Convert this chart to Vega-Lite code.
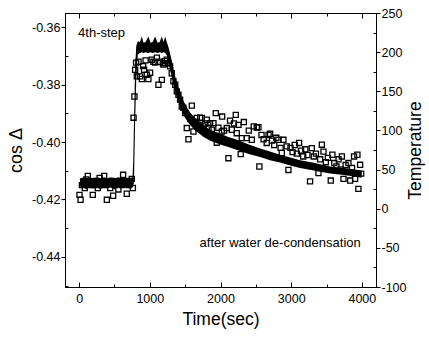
{
  "$schema": "https://vega.github.io/schema/vega-lite/v6.json",
  "width": 311,
  "height": 274,
  "autosize": {"type": "none"},
  "padding": {"left": 65, "top": 13, "right": 53, "bottom": 55},
  "background": "white",
  "config": {
    "font": "Liberation Sans",
    "view": {"stroke": "black", "strokeWidth": 1},
    "axis": {"grid": false, "domainColor": "black", "tickColor": "black", "labelColor": "black", "titleColor": "black", "labelFontSize": 12.5, "titleFontSize": 17.5, "titleFontWeight": "normal", "domainWidth": 1, "tickWidth": 1}
  },
  "resolve": {"scale": {"y": "independent"}, "axis": {"x": "independent"}},
  "layer": [
    {
      "data": {"values": [
        {"t": 15, "lo": 26, "hi": 39}, {"t": 60, "lo": 27, "hi": 40}, {"t": 100, "lo": 25, "hi": 38}, {"t": 150, "lo": 27, "hi": 40},
        {"t": 200, "lo": 26, "hi": 39}, {"t": 250, "lo": 27, "hi": 40}, {"t": 300, "lo": 25, "hi": 39}, {"t": 350, "lo": 27, "hi": 40},
        {"t": 400, "lo": 26, "hi": 39}, {"t": 450, "lo": 27, "hi": 40}, {"t": 500, "lo": 25, "hi": 39}, {"t": 550, "lo": 27, "hi": 40},
        {"t": 600, "lo": 26, "hi": 39}, {"t": 650, "lo": 27, "hi": 40}, {"t": 700, "lo": 26, "hi": 39}, {"t": 755, "lo": 27, "hi": 40},
        {"t": 765, "lo": 28, "hi": 60}, {"t": 778, "lo": 45, "hi": 120}, {"t": 792, "lo": 110, "hi": 180}, {"t": 808, "lo": 165, "hi": 208},
        {"t": 830, "lo": 197, "hi": 214}, {"t": 860, "lo": 199, "hi": 213}, {"t": 887, "lo": 200, "hi": 220}, {"t": 910, "lo": 199, "hi": 212},
        {"t": 940, "lo": 200, "hi": 213}, {"t": 980, "lo": 199, "hi": 220}, {"t": 1010, "lo": 200, "hi": 212}, {"t": 1040, "lo": 199, "hi": 213},
        {"t": 1075, "lo": 200, "hi": 220}, {"t": 1110, "lo": 199, "hi": 212}, {"t": 1140, "lo": 200, "hi": 213}, {"t": 1170, "lo": 199, "hi": 220},
        {"t": 1195, "lo": 200, "hi": 213}, {"t": 1217, "lo": 199, "hi": 220}, {"t": 1240, "lo": 196, "hi": 213}, {"t": 1265, "lo": 186, "hi": 206},
        {"t": 1290, "lo": 176, "hi": 197}, {"t": 1315, "lo": 166, "hi": 187}, {"t": 1345, "lo": 154, "hi": 174}, {"t": 1380, "lo": 143, "hi": 162},
        {"t": 1420, "lo": 132, "hi": 151}, {"t": 1460, "lo": 123, "hi": 141}, {"t": 1500, "lo": 116, "hi": 133}, {"t": 1570, "lo": 107, "hi": 123},
        {"t": 1640, "lo": 100, "hi": 116}, {"t": 1700, "lo": 96, "hi": 111}, {"t": 1754, "lo": 92, "hi": 107}, {"t": 1850, "lo": 87, "hi": 101},
        {"t": 1994, "lo": 82, "hi": 96}, {"t": 2100, "lo": 79, "hi": 92}, {"t": 2235, "lo": 75, "hi": 88}, {"t": 2400, "lo": 70, "hi": 82},
        {"t": 2560, "lo": 66, "hi": 77}, {"t": 2700, "lo": 62, "hi": 73}, {"t": 2843, "lo": 59, "hi": 69}, {"t": 3000, "lo": 55, "hi": 65},
        {"t": 3126, "lo": 52, "hi": 62}, {"t": 3300, "lo": 49, "hi": 59}, {"t": 3550, "lo": 45, "hi": 54}, {"t": 3750, "lo": 43, "hi": 52},
        {"t": 3975, "lo": 40, "hi": 49}, {"t": 4000, "lo": 40, "hi": 48}
      ]},
      "mark": {"type": "area", "color": "black"},
      "encoding": {
        "x": {"field": "t", "type": "quantitative", "scale": {"domain": [-200, 4200], "nice": false, "zero": false},
          "axis": {"orient": "bottom", "title": "Time(sec)", "values": [0, 500, 1000, 1500, 2000, 2500, 3000, 3500, 4000], "format": "d",
            "labelExpr": "datum.value % 1000 == 0 ? datum.label : ''",
            "tickSize": {"condition": {"test": "datum.value % 1000 == 0", "value": -5}, "value": -3},
            "labelPadding": 10, "titlePadding": 6}},
        "y": {"field": "lo", "type": "quantitative", "scale": {"domain": [-100, 250], "nice": false, "zero": false},
          "axis": {"orient": "right", "title": "Temperature", "titleAngle": 270, "titlePadding": 18,
            "values": [-100, -75, -50, -25, 0, 25, 50, 75, 100, 125, 150, 175, 200, 225, 250], "format": "d",
            "labelExpr": "datum.value % 50 == 0 ? replace(datum.label, '−', '-') : ''",
            "tickSize": {"condition": {"test": "datum.value % 50 == 0", "value": 4}, "value": -3},
            "labelPadding": 1}},
        "y2": {"field": "hi"}
      }
    },
    {
      "encoding": {
        "x": {"field": "t", "type": "quantitative", "scale": {"domain": [-200, 4200], "nice": false, "zero": false},
          "axis": {"orient": "top", "title": null, "labels": false, "values": [0, 500, 1000, 1500, 2000, 2500, 3000, 3500, 4000],
            "tickSize": {"condition": {"test": "datum.value % 1000 == 0", "value": -5}, "value": -3}}},
        "y": {"field": "cos", "type": "quantitative", "scale": {"domain": [-0.4505, -0.355], "nice": false, "zero": false},
          "axis": {"orient": "left", "title": "cos Δ", "titlePadding": 6, "titleFontSize": 18,
            "values": [-0.45, -0.44, -0.43, -0.42, -0.41, -0.4, -0.39, -0.38, -0.37, -0.36], "format": ".2f",
            "labelExpr": "abs(round(datum.value * 100)) % 2 == 0 ? replace(datum.label, '−', '-') : ''",
            "tickSize": {"condition": {"test": "abs(round(datum.value * 100)) % 2 == 0", "value": 4}, "value": -3},
            "labelPadding": 1}}
      },
      "layer": [
        {
          "data": {"values": [
            {"t": 5, "cos": -0.4184}, {"t": 20, "cos": -0.4201}, {"t": 40, "cos": -0.415}, {"t": 60, "cos": -0.414}, {"t": 80, "cos": -0.416},
            {"t": 100, "cos": -0.413}, {"t": 123, "cos": -0.4118}, {"t": 145, "cos": -0.415}, {"t": 170, "cos": -0.414}, {"t": 193, "cos": -0.4184},
            {"t": 215, "cos": -0.415}, {"t": 240, "cos": -0.4135}, {"t": 265, "cos": -0.416}, {"t": 290, "cos": -0.4125}, {"t": 315, "cos": -0.4145},
            {"t": 354, "cos": -0.4118}, {"t": 375, "cos": -0.415}, {"t": 392, "cos": -0.4201}, {"t": 415, "cos": -0.414}, {"t": 440, "cos": -0.416},
            {"t": 460, "cos": -0.4135}, {"t": 481, "cos": -0.4187}, {"t": 505, "cos": -0.415}, {"t": 530, "cos": -0.414}, {"t": 555, "cos": -0.4165},
            {"t": 580, "cos": -0.4135}, {"t": 605, "cos": -0.415}, {"t": 622, "cos": -0.4114}, {"t": 645, "cos": -0.4145}, {"t": 674, "cos": -0.418},
            {"t": 700, "cos": -0.415}, {"t": 725, "cos": -0.4135}, {"t": 745, "cos": -0.4128}, {"t": 760, "cos": -0.416},
            {"t": 770, "cos": -0.3915}, {"t": 782, "cos": -0.3841}, {"t": 792, "cos": -0.3748}, {"t": 806, "cos": -0.3723}, {"t": 816, "cos": -0.3771},
            {"t": 840, "cos": -0.372}, {"t": 863, "cos": -0.3771}, {"t": 887, "cos": -0.378}, {"t": 905, "cos": -0.3735}, {"t": 919, "cos": -0.3748},
            {"t": 940, "cos": -0.3715}, {"t": 957, "cos": -0.3765}, {"t": 980, "cos": -0.378}, {"t": 1004, "cos": -0.3758}, {"t": 1027, "cos": -0.3713},
            {"t": 1051, "cos": -0.372}, {"t": 1075, "cos": -0.3723}, {"t": 1100, "cos": -0.3706}, {"t": 1122, "cos": -0.38}, {"t": 1140, "cos": -0.372},
            {"t": 1170, "cos": -0.3783}, {"t": 1185, "cos": -0.3725}, {"t": 1193, "cos": -0.373}, {"t": 1215, "cos": -0.3718}, {"t": 1240, "cos": -0.3713},
            {"t": 1265, "cos": -0.3725}, {"t": 1287, "cos": -0.3736}, {"t": 1310, "cos": -0.376}, {"t": 1334, "cos": -0.3788}, {"t": 1360, "cos": -0.38},
            {"t": 1382, "cos": -0.3823}, {"t": 1405, "cos": -0.3835}, {"t": 1428, "cos": -0.3852}, {"t": 1452, "cos": -0.3876}, {"t": 1475, "cos": -0.388},
            {"t": 1500, "cos": -0.3899}, {"t": 1523, "cos": -0.3951}, {"t": 1547, "cos": -0.399}, {"t": 1570, "cos": -0.392}, {"t": 1594, "cos": -0.3873},
            {"t": 1617, "cos": -0.3963}, {"t": 1640, "cos": -0.393}, {"t": 1665, "cos": -0.3916}, {"t": 1690, "cos": -0.394}, {"t": 1711, "cos": -0.3915},
            {"t": 1735, "cos": -0.3916}, {"t": 1760, "cos": -0.3945}, {"t": 1785, "cos": -0.3935}, {"t": 1806, "cos": -0.3922}, {"t": 1830, "cos": -0.395},
            {"t": 1853, "cos": -0.3934}, {"t": 1877, "cos": -0.3957}, {"t": 1900, "cos": -0.3934}, {"t": 1933, "cos": -0.3899}, {"t": 1947, "cos": -0.4002},
            {"t": 1970, "cos": -0.395}, {"t": 2018, "cos": -0.3963}, {"t": 2023, "cos": -0.3911}, {"t": 2050, "cos": -0.396}, {"t": 2089, "cos": -0.3951},
            {"t": 2112, "cos": -0.4056}, {"t": 2135, "cos": -0.3925}, {"t": 2160, "cos": -0.3957}, {"t": 2190, "cos": -0.3935}, {"t": 2216, "cos": -0.3905},
            {"t": 2230, "cos": -0.3969}, {"t": 2255, "cos": -0.394}, {"t": 2286, "cos": -0.4042}, {"t": 2301, "cos": -0.3986}, {"t": 2330, "cos": -0.393},
            {"t": 2372, "cos": -0.3986}, {"t": 2400, "cos": -0.396}, {"t": 2443, "cos": -0.3992}, {"t": 2470, "cos": -0.3945}, {"t": 2513, "cos": -0.3949},
            {"t": 2536, "cos": -0.3948}, {"t": 2550, "cos": -0.4085}, {"t": 2580, "cos": -0.3975}, {"t": 2610, "cos": -0.399}, {"t": 2654, "cos": -0.4003},
            {"t": 2680, "cos": -0.3975}, {"t": 2702, "cos": -0.3971}, {"t": 2730, "cos": -0.3995}, {"t": 2760, "cos": -0.401}, {"t": 2790, "cos": -0.3985},
            {"t": 2819, "cos": -0.3992}, {"t": 2850, "cos": -0.402}, {"t": 2867, "cos": -0.4038}, {"t": 2890, "cos": -0.3992}, {"t": 2937, "cos": -0.4015},
            {"t": 2961, "cos": -0.4097}, {"t": 2990, "cos": -0.402}, {"t": 3020, "cos": -0.4035}, {"t": 3050, "cos": -0.401}, {"t": 3080, "cos": -0.404},
            {"t": 3112, "cos": -0.4003}, {"t": 3140, "cos": -0.403}, {"t": 3170, "cos": -0.405}, {"t": 3200, "cos": -0.4025}, {"t": 3230, "cos": -0.4045},
            {"t": 3267, "cos": -0.4137}, {"t": 3292, "cos": -0.4021}, {"t": 3320, "cos": -0.405}, {"t": 3350, "cos": -0.404}, {"t": 3386, "cos": -0.4108},
            {"t": 3410, "cos": -0.406}, {"t": 3434, "cos": -0.4009}, {"t": 3457, "cos": -0.4033}, {"t": 3490, "cos": -0.407}, {"t": 3520, "cos": -0.4055},
            {"t": 3560, "cos": -0.4134}, {"t": 3583, "cos": -0.4044}, {"t": 3610, "cos": -0.4073}, {"t": 3640, "cos": -0.4085}, {"t": 3670, "cos": -0.406},
            {"t": 3700, "cos": -0.4095}, {"t": 3717, "cos": -0.405}, {"t": 3740, "cos": -0.4128}, {"t": 3770, "cos": -0.408}, {"t": 3810, "cos": -0.4073},
            {"t": 3834, "cos": -0.4134}, {"t": 3860, "cos": -0.409}, {"t": 3890, "cos": -0.405}, {"t": 3904, "cos": -0.4128}, {"t": 3937, "cos": -0.4044},
            {"t": 3951, "cos": -0.4163}, {"t": 3975, "cos": -0.4079}, {"t": 3990, "cos": -0.411}
          ]},
          "mark": {"type": "point", "shape": "square", "filled": false, "color": "black", "size": 26, "strokeWidth": 1.3, "opacity": 1}
        },
        {
          "data": {"values": [{"t": -15, "cos": -0.3618, "label": "4th-step"}]},
          "mark": {"type": "text", "align": "left", "baseline": "middle", "fontSize": 13, "color": "black"},
          "encoding": {"text": {"field": "label"}}
        },
        {
          "data": {"values": [{"t": 3984, "cos": -0.435, "label": "after water de-condensation"}]},
          "mark": {"type": "text", "align": "right", "baseline": "middle", "fontSize": 13, "color": "black"},
          "encoding": {"text": {"field": "label"}}
        }
      ]
    }
  ]
}
